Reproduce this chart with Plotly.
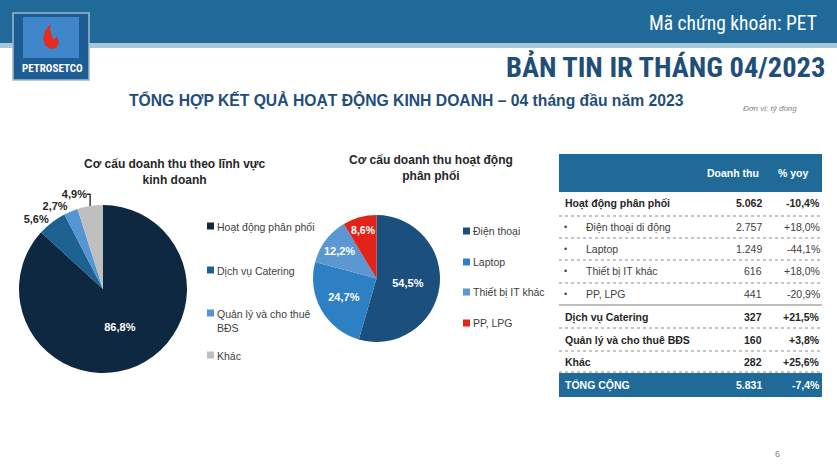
import plotly.graph_objects as go

W, H = 837, 472

# ---------------- data ----------------
seg_labels = ["Hoạt động phân phối", "Dịch vụ Catering", "Quản lý và cho thuê<br>BĐS", "Khác"]
seg_share = [86.8, 5.6, 2.7, 4.9]
seg_colors = ["#0E2841", "#1D6190", "#5595D2", "#BFBFBF"]

dist_labels = ["Điện thoại", "Laptop", "Thiết bị IT khác", "PP, LPG"]
dist_share = [54.5, 24.7, 12.2, 8.6]
dist_colors = ["#1B4F7E", "#2E80C4", "#5B98D2", "#E2231A"]

row_names = ["Hoạt động phân phối", "Điện thoại di động", "Laptop", "Thiết bị IT khác",
             "PP, LPG", "Dịch vụ Catering", "Quản lý và cho thuê BĐS", "Khác"]
row_revenue = [5062, 2757, 1249, 616, 441, 327, 160, 282]
row_yoy = [-10.4, 18.0, -44.1, 18.0, -20.9, 21.5, 3.8, 25.6]
row_is_sub = [False, True, True, True, True, False, False, False]
total_name = "TỔNG CỘNG"
total_revenue = 5831
total_yoy = -7.4
col_headers = ["Doanh thu", "% yoy"]

# ---------------- helpers ----------------
def X(px):
    return px / W

def Y(py):
    return 1 - py / H

def fmt_num(v):
    return f"{v:,}".replace(",", ".")

def fmt_pct(v):
    return f"{v:+.1f}%".replace(".", ",")

BASE = "Liberation Sans, Arial, sans-serif"
NARROW = "Liberation Sans Narrow, Arial Narrow, Roboto Condensed, Liberation Sans, sans-serif"
HEADER_BLUE = "#1F6A98"
TXT = "#262626"

fig = go.Figure()

# pie 1
c1x, c1y, r1 = 103, 289, 84
fig.add_trace(go.Pie(
    labels=seg_labels, values=seg_share, sort=False, direction="clockwise", rotation=0,
    marker=dict(colors=seg_colors, line=dict(width=0)),
    texttemplate="<b>%{value:.1f}%</b>",
    textposition=["inside", "outside", "outside", "outside"],
    insidetextorientation="horizontal",
    insidetextfont=dict(family=BASE, size=11, color="white"),
    outsidetextfont=dict(family=BASE, size=11, color=TXT),
    domain=dict(x=[X(c1x - r1), X(c1x + r1)], y=[Y(c1y + r1), Y(c1y - r1)]),
    showlegend=False, hoverinfo="label+percent",
))

# pie 2
c2x, c2y, r2 = 376.5, 278.5, 63.5
fig.add_trace(go.Pie(
    labels=dist_labels, values=dist_share, sort=False, direction="clockwise", rotation=0,
    marker=dict(colors=dist_colors, line=dict(width=0)),
    texttemplate="<b>%{value:.1f}%</b>",
    textposition="inside",
    insidetextorientation="horizontal",
    insidetextfont=dict(family=BASE, size=11, color="white"),
    domain=dict(x=[X(c2x - r2), X(c2x + r2)], y=[Y(c2y + r2), Y(c2y - r2)]),
    showlegend=False, hoverinfo="label+percent",
))

shapes = []
ann = []

def rect(x0, y0, x1, y1, color, line_color=None, line_width=0, layer="below"):
    shapes.append(dict(type="rect", xref="paper", yref="paper",
                       x0=X(x0), x1=X(x1), y0=Y(y1), y1=Y(y0),
                       fillcolor=color, layer=layer, opacity=1,
                       line=dict(width=line_width, color=line_color or color)))

def hline(x0, x1, y, color, dash="solid", width=1):
    shapes.append(dict(type="line", xref="paper", yref="paper",
                       x0=X(x0), x1=X(x1), y0=Y(y), y1=Y(y),
                       line=dict(color=color, width=width, dash=dash)))

def text(x, y, s, size, color=TXT, family=BASE, xanchor="left", yanchor="middle", align="left"):
    ann.append(dict(x=X(x), y=Y(y), xref="paper", yref="paper", text=s, showarrow=False,
                    xanchor=xanchor, yanchor=yanchor, align=align,
                    font=dict(family=family, size=size, color=color)))

# ---------------- header band ----------------
rect(0, 0, W, 43, HEADER_BLUE)
rect(0, 43, W, 48, "#A9C7DB")

# logo (simple blocks; interior drawn as stacked bands)
rect(13, 13, 89, 80, "#1B5C92", "#9FB8CE", 1.5, layer="above")
rect(23, 17, 79, 37, "#3F86CA", layer="above")
rect(23, 37, 79, 58, "#3F86CA", layer="above")
rect(20, 58, 84, 76, "#1E5D95", layer="above")
shapes.append(dict(type="path", xref="paper", yref="paper", layer="above",
                   path=f"M {X(51)},{Y(23)} L {X(45)},{Y(31)} L {X(43)},{Y(38)} L {X(45)},{Y(45)} "
                        f"L {X(50)},{Y(49)} L {X(56)},{Y(48)} L {X(59)},{Y(43)} L {X(57)},{Y(36)} "
                        f"L {X(54)},{Y(40)} L {X(52)},{Y(36)} L {X(50)},{Y(30)} Z",
                   fillcolor="#E32C22", line=dict(width=0)))
text(52, 68, "<b>PETROSETCO</b>", 11, "white", NARROW, xanchor="center")

text(819, 24, "Mã chứng khoán: PET", 19.5, "white", NARROW, xanchor="right")
text(827, 67, "<b>BẢN TIN IR THÁNG 04/2023</b>", 28.5, "#1F4E79", NARROW, xanchor="right")
text(406, 100, "<b>TỔNG HỢP KẾT QUẢ HOẠT ĐỘNG KINH DOANH – 04 tháng đầu năm 2023</b>", 15.7,
     "#1F4E79", BASE, xanchor="center")
text(770, 108, "<i>Đơn vị: tỷ đồng</i>", 8, "#7F7F7F", BASE, xanchor="center")

# ---------------- chart titles ----------------
text(175, 172, "<b>Cơ cấu doanh thu theo lĩnh vực<br>kinh doanh</b>", 12, TXT, BASE,
     xanchor="center", align="center")
text(431, 168, "<b>Cơ cấu doanh thu hoạt động<br>phân phối</b>", 12, TXT, BASE,
     xanchor="center", align="center")

# ---------------- manual legends ----------------
leg1_y = [226, 270, 313, 355]
for lab, col, yy in zip(seg_labels, seg_colors, leg1_y):
    rect(207, yy - 3.5, 214, yy + 3.5, col)
    text(215, yy - 7, lab, 10.5, "#404040", BASE, yanchor="top")

leg2_y = [231, 262, 292, 323]
for lab, col, yy in zip(dist_labels, dist_colors, leg2_y):
    rect(463, yy - 3.5, 470, yy + 3.5, col)
    text(471, yy, lab, 10.5, "#404040", BASE)

# ---------------- table ----------------
TX0, TX1 = 559, 822
rect(TX0, 154, TX1, 192, HEADER_BLUE)
text(733, 173, f"<b>{col_headers[0]}</b>", 10.5, "white", BASE, xanchor="center")
text(793, 173, f"<b>{col_headers[1]}</b>", 10.5, "white", BASE, xanchor="center")

row_y = [203, 227, 249, 271, 294, 317, 340, 362]
sep_y = [216, 238, 260, 283, 305, 328, 351, 372]
for name, rev, yy, sub, yv in zip(row_names, row_revenue, row_y, row_is_sub, row_yoy):
    if sub:
        text(565, yy, "•", 9, "#404040", BASE, xanchor="center")
        text(584, yy, name, 10.5, "#404040", BASE)
        text(764, yy, fmt_num(rev), 10.5, "#404040", BASE, xanchor="right")
        text(822, yy, fmt_pct(yv), 10.5, "#404040", BASE, xanchor="right")
    else:
        text(563, yy, f"<b>{name}</b>", 10.5, TXT, BASE)
        text(764, yy, f"<b>{fmt_num(rev)}</b>", 10.5, TXT, BASE, xanchor="right")
        text(822, yy, f"<b>{fmt_pct(yv)}</b>", 10.5, TXT, BASE, xanchor="right")
for i, yy in enumerate(sep_y):
    if i == 4:
        hline(TX0, TX1, yy, "#7F7F7F", "solid", 1)
    else:
        hline(TX0, TX1, yy, "#8C8C8C", "dot", 1)

rect(TX0, 373, TX1, 397, HEADER_BLUE)
text(563, 385, f"<b>{total_name}</b>", 10.5, "white", BASE)
text(764, 385, f"<b>{fmt_num(total_revenue)}</b>", 10.5, "white", BASE, xanchor="right")
text(822, 385, f"<b>{fmt_pct(total_yoy)}</b>", 10.5, "white", BASE, xanchor="right")

# page number
text(777, 454, "6", 9, "#7F7F7F", BASE, xanchor="center")

fig.update_layout(
    width=W, height=H, autosize=False,
    margin=dict(l=0, r=0, t=0, b=0),
    paper_bgcolor="white", plot_bgcolor="white",
    separators=",.",
    shapes=shapes, annotations=ann,
    showlegend=False,
)

fig.write_html("out.html", config={"displayModeBar": False},
               post_script="document.body.style.margin='0';document.body.style.overflow='hidden';")
